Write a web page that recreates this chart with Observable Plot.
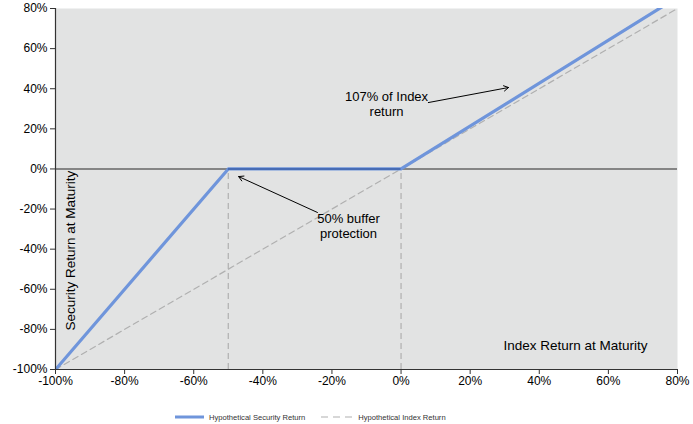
<!DOCTYPE html>
<html><head><meta charset="utf-8">
<script src="https://cdn.jsdelivr.net/npm/d3@7"></script>
<script src="https://cdn.jsdelivr.net/npm/@observablehq/plot@0.6"></script>
<style>
body{margin:0;background:#fff;font-family:"Liberation Sans",Arial,sans-serif;}
#legend{display:flex;align-items:center;height:16px;margin-top:14px;padding-left:175px;font-size:7.6px;color:#333;}
#legend span{display:inline-flex;align-items:center;margin-right:16px;}
#legend svg{margin-right:5px;}
</style>
</head><body>
<div id="chart"></div>
<div id="legend">
<span><svg width="29" height="6"><line x1="0" y1="3" x2="29" y2="3" stroke="#6f95db" stroke-width="3"/></svg>Hypothetical Security Return</span>
<span><svg width="32" height="6"><line x1="0" y1="3" x2="32" y2="3" stroke="#b0b0b0" stroke-width="1.2" stroke-dasharray="7,5"/></svg>Hypothetical Index Return</span>
</div>
<script>
const ticks = [-100,-80,-60,-40,-20,0,20,40,60,80];
const securityX = [-100,-50,0,80];
const securityY = [-100,0,0,85.6];
const indexX = [-100,80];
const indexY = [-100,80];
const guideX = [-50,0];
const security = securityX.map((x,i)=>({x,y:securityY[i]}));
const index = indexX.map((x,i)=>({x,y:indexY[i]}));
const arrows = [
  {x1:-24.2,y1:-21.7,x2:-47.0,y2:-3.8},
  {x1:7.9,y1:33.1,x2:31.1,y2:40.6}
];
const notes = [
  {x:-15.2,y:-24.7,t:"50% buffer"},
  {x:-15.2,y:-32.2,t:"protection"},
  {x:-4.2,y:36.1,t:"107% of Index"},
  {x:-4.2,y:28.6,t:"return"}
];
const fmt = d => d + "%";
const chart = Plot.plot({
  width:693, height:395,
  marginLeft:55, marginRight:16, marginTop:8, marginBottom:26,
  style:{fontFamily:"Liberation Sans, Arial, sans-serif", fontSize:"12px", color:"#000"},
  x:{domain:[-100,80]},
  y:{domain:[-100,80]},
  marks:[
    Plot.frame({fill:"#e2e3e3", stroke:null}),
    Plot.ruleX(guideX,{y1:-100,y2:0,stroke:"#b0b0b0",strokeWidth:1.2,strokeDasharray:"6,4"}),
    Plot.line(index,{x:"x",y:"y",stroke:"#b0b0b0",strokeWidth:1.2,strokeDasharray:"6,4"}),
    Plot.ruleY([0],{stroke:"#666",strokeWidth:1.5}),
    Plot.line(security,{x:"x",y:"y",stroke:"#6f95db",strokeWidth:3.2,clip:true}),
    Plot.ruleY([0],{x1:-50,x2:0,stroke:"#3a5fa8",strokeWidth:1.5}),
    Plot.arrow(arrows,{x1:"x1",y1:"y1",x2:"x2",y2:"y2",stroke:"#000",strokeWidth:1,headLength:8}),
    Plot.text(notes,{x:"x",y:"y",text:"t",fontSize:13,fill:"#000"}),
    Plot.text(["Security Return at Maturity"],{x:-95.7,y:-40.7,rotate:-90,fontSize:13.5,fill:"#000"}),
    Plot.text(["Index Return at Maturity"],{x:50.5,y:-88,fontSize:13.5,fill:"#000"}),
    Plot.axisX({ticks,tickFormat:fmt,tickSize:5,tickPadding:2,stroke:"#333",label:null}),
    Plot.axisY({ticks,tickFormat:fmt,tickSize:5,tickPadding:3,stroke:"#333",label:null}),
    Plot.ruleX([-100],{stroke:"#333",strokeWidth:1.2}),
    Plot.ruleY([-100],{stroke:"#333",strokeWidth:1.2})
  ]
});
document.getElementById("chart").append(chart);
</script>
</body></html>
